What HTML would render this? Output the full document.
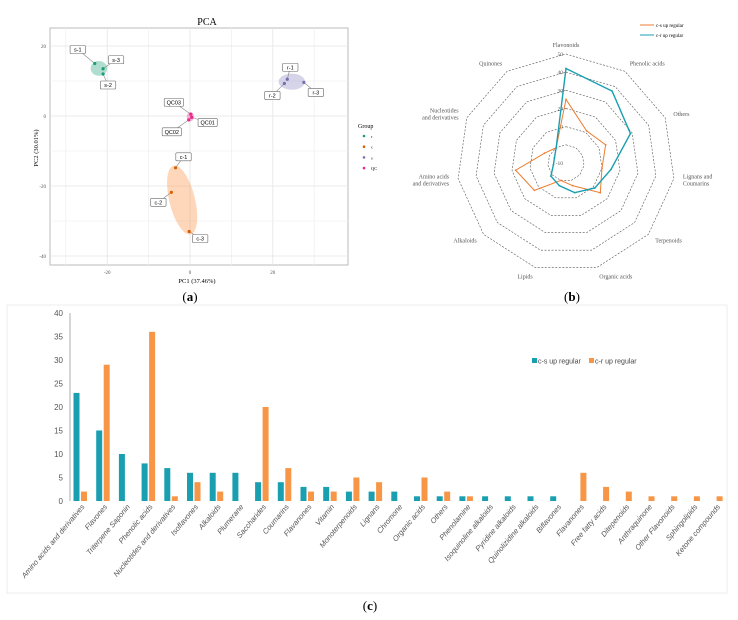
<!DOCTYPE html>
<html><head><meta charset="utf-8"><style>
html,body{margin:0;padding:0;background:#fff;}
svg{display:block;font-family:"Liberation Serif",serif;}
</style></head><body>
<svg id="fig" width="738" height="620" viewBox="0 0 738 620" xmlns="http://www.w3.org/2000/svg">
<g id="pca"></g>
<g id="radar"></g>
<g id="bar"></g>
<text x="190" y="301" font-size="13" text-anchor="middle">(<tspan font-weight="bold">a</tspan>)</text>
<text x="572" y="301" font-size="13" text-anchor="middle">(<tspan font-weight="bold">b</tspan>)</text>
<text x="370" y="610" font-size="13" text-anchor="middle">(<tspan font-weight="bold">c</tspan>)</text>
</svg>
<script>
// ---------- PCA data ----------
const pcaNames = ["s-1","s-3","s-2","r-1","r-2","r-3","QC03","QC01","QC02","c-1","c-2","c-3"];
const pcaGroups = ["s","s","s","r","r","r","QC","QC","QC","c","c","c"];
const pcaPC1 = [-23,-21,-21,23.5,22.8,27.5,0.2,0.4,-0.3,-3.5,-4.5,-0.2];
const pcaPC2 = [15,13.5,12,10.5,9.3,9.6,0.5,-0.4,-1.1,-14.8,-21.8,-33];
const pcaXTicks = [-20,0,20];
const pcaYTicks = [20,0,-20,-40];
const legendGroups = ["r","c","s","QC"];
// ---------- Radar data ----------
const radarAxes = ["Flavonoids","Phenolic acids","Others","Lignans and|Coumarins","Terpenoids","Organic acids","Lipids","Alkaloids","Amino acids|and derivatives","Nucleotides|and derivatives","Quinones"];
const radarCS = [25,11,14,10,15,3,0,13,18,3,0];
const radarCR = [42,37,29,15,11,7,3,1,-3,-3,0];
const radarRings = [0,10,20,30,40,50];
const radarRingLabels = ["-10","10","20","30","40","50"];
// ---------- Bar data ----------
const barCats = ["Amino acids and derivatives","Flavones","Triterpene Saponin","Phenolic acids","Nucleotides and derivatives","Isoflavones","Alkaloids","Plumerane","Saccharides","Coumarins","Flavanones","Vitamin","Monoterpenoids","Lignans","Chromone","Organic acids","Others","Phenolamine","Isoquinoline alkaloids","Pyridine alkaloids","Quinolizidine alkaloids","Biflavones","Flavanones","Free fatty acids","Ditepenoids","Anthraquinone","Other Flavonoids","Sphingolipids","Ketone compounds"];
const barCS = [23,15,10,8,7,6,6,6,4,4,3,3,2,2,2,1,1,1,1,1,1,1,0,0,0,0,0,0,0];
const barCR = [2,29,0,36,1,4,2,0,20,7,2,2,5,4,0,5,2,1,0,0,0,0,6,3,2,1,1,1,1];
const barTicks = [0,5,10,15,20,25,30,35,40];

const NS="http://www.w3.org/2000/svg";
function mk(parent,tag,attrs,text){const e=document.createElementNS(NS,tag);for(const k in attrs)e.setAttribute(k,attrs[k]);if(text!==undefined)e.textContent=text;parent.appendChild(e);return e;}

// ===== PCA =====
(function(){
const g=document.getElementById('pca');
const px=v=>190+v*4.14, py=v=>116-v*3.5;
const ptColor={s:"#1b9e77",r:"#7570b3",c:"#d95f02",QC:"#e7298a"};
let t=mk(g,'text',{x:207,y:25,'font-size':10,'text-anchor':'middle'},"PCA");

let frame=mk(g,'rect',{x:50,y:28,width:298,height:237,fill:'#fff',stroke:'#bbb','stroke-width':1});

for(let v=-30;v<=30;v+=10){const l=mk(g,'line',{x1:px(v),x2:px(v),y1:28,y2:265,stroke:v%20===0?'#e4e4e4':'#f0f0f0','stroke-width':0.8});}
for(let v=-40;v<=20;v+=10){const l=mk(g,'line',{x1:50,x2:348,y1:py(v),y2:py(v),stroke:v%20===0?'#e4e4e4':'#f0f0f0','stroke-width':0.8});}
pcaXTicks.forEach(v=>{const e=mk(g,'text',{x:px(v),y:274,'font-size':5,'text-anchor':'middle',fill:'#555'},v);});
pcaYTicks.forEach(v=>{const e=mk(g,'text',{x:46,y:py(v)+2,'font-size':5,'text-anchor':'end',fill:'#555'},v);});
let xt=mk(g,'text',{x:197,y:283,'font-size':6.5,'text-anchor':'middle'},"PC1 (37.46%)");
let yt=mk(g,'text',{x:38,y:148,'font-size':6.5,'text-anchor':'middle',transform:'rotate(-90 38 148)'},"PC2 (30.01%)");
const ell=[["s",-22,13.6,2.0,2.1,0,"#1b9e77"],["r",24.6,9.8,3.2,2.3,0,"#7570b3"],["QC",0.1,-0.2,0.9,1.3,0,"#e7298a"],["c",-1.9,-24,3.1,10.1,-14,"#fb8c3c"]];
ell.forEach(e=>{const cx=px(e[1]),cy=py(e[2]);const el=mk(g,'ellipse',{cx:cx,cy:cy,rx:e[3]*4.14,ry:e[4]*3.5,fill:e[6],'fill-opacity':e[0]==='r'?0.3:0.35,transform:`rotate(${e[5]} ${cx} ${cy})`});});
const labOff=[[-17,-14],[13,-9],[5,11],[3,-12],[-12,12],[12,10],[-17,-12],[16,5],[-17,12],[8,-11],[-13,10],[11,7]];
pcaNames.forEach((n,i)=>{const x=px(pcaPC1[i]),y=py(pcaPC2[i]);const lx=x+labOff[i][0],ly=y+labOff[i][1];
 const ln=mk(g,'line',{x1:x,y1:y,x2:lx,y2:ly,stroke:'#888','stroke-width':0.6});
 const w=n.length*3.8+4;const r=mk(g,'rect',{x:lx-w/2,y:ly-4,width:w,height:8,fill:'#fff',stroke:'#666','stroke-width':0.6,rx:1});
 const tx=mk(g,'text',{x:lx,y:ly+2,'font-size':5.5,'text-anchor':'middle','font-family':'Liberation Sans, sans-serif'},n);
});
pcaNames.forEach((n,i)=>{const c=mk(g,'circle',{cx:px(pcaPC1[i]),cy:py(pcaPC2[i]),r:1.6,fill:ptColor[pcaGroups[i]]});});
let lg=mk(g,'text',{x:358,y:128,'font-size':6},"Group");
const legColor=["#1b9e77","#d95f02","#7570b3","#e7298a"];
legendGroups.forEach((n,i)=>{const y=136+i*10.7;const c=mk(g,'circle',{cx:364,cy:y,r:1.3,fill:legColor[i]});const tx=mk(g,'text',{x:371,y:y+2,'font-size':4.5},n);});
})();

// ===== Radar =====
(function(){
const g=document.getElementById('radar');
const cx=566,cy=163,R=109,minV=-10,maxV=50,N=radarAxes.length;
const rs=v=>(v-minV)/(maxV-minV)*R;
const ang=i=>(-90+i*360/N)*Math.PI/180;
const pt=(i,v)=>[cx+rs(v)*Math.cos(ang(i)),cy+rs(v)*Math.sin(ang(i))];
radarRings.forEach(v=>{const p=[];for(let i=0;i<N;i++)p.push(pt(i,v).join(','));const e=mk(g,'polygon',{points:p.join(' '),fill:'none',stroke:'#555','stroke-width':0.6,'stroke-dasharray':'2,1.5'});});
const ringVals=[-10,10,20,30,40,50];
radarRingLabels.forEach((l,k)=>{const v=ringVals[k];const y=v===-10?cy:cy-rs(v);const e=mk(g,'text',{x:cx-3,y:y+2,'font-size':5.5,'text-anchor':'end',fill:'#555'},l);});
radarAxes.forEach((a,i)=>{const [x,y]=pt(i,maxV+5);const c=Math.cos(ang(i));const anchor=Math.abs(c)<0.2?'middle':(c>0?'start':'end');const lines=a.split('|');
 const e=mk(g,'text',{x:x,y:y+2-(lines.length-1)*3.5,'font-size':6,'text-anchor':anchor,fill:'#555'});
 lines.forEach((l,j)=>mk(e,'tspan',{x:x,dy:j?7:0},l));});
function series(vals,color,w,name){const p=vals.map((v,i)=>pt(i,v).join(','));const e=mk(g,'polygon',{points:p.join(' '),fill:'none',stroke:color,'stroke-width':w});
 vals.forEach((v,i)=>{const [x,y]=pt(i,v);const c=mk(g,'circle',{cx:x,cy:y,r:0.9,fill:color});});}
series(radarCS,'#ed7d31',1,'radar-series-cs');
series(radarCR,'#1a9fb0',1.4,'radar-series-cr');
[['#ed7d31','c-s up regular',25],['#1a9fb0','c-r up regular',35]].forEach(d=>{const l=mk(g,'line',{x1:640,x2:654,y1:d[2],y2:d[2],stroke:d[0],'stroke-width':1});const t=mk(g,'text',{x:656,y:d[2]+2,'font-size':5},d[1]);});
})();

// ===== Bar =====
(function(){
const g=document.getElementById('bar');
const x0=70,band=22.7,y0=501,ys=188/40;
const y=v=>y0-v*ys;
const fr=mk(g,'rect',{x:7,y:305,width:720,height:288,fill:'none',stroke:'#e8e8e8','stroke-width':0.8});
const ax=mk(g,'line',{x1:x0,x2:x0,y1:y(40),y2:y0,stroke:'#999','stroke-width':0.8});
barTicks.forEach(v=>{const e=mk(g,'text',{x:63,y:y(v)+3,'font-size':8,'text-anchor':'end',fill:'#555','font-family':'Liberation Sans, sans-serif'},v);});
barCats.forEach((c,i)=>{const bx=x0+i*band;
 const a=mk(g,'rect',{x:bx+3.5,y:y(barCS[i]),width:6,height:barCS[i]*ys,fill:'#1a9fb0'});
 const b=mk(g,'rect',{x:bx+11,y:y(barCR[i]),width:6,height:barCR[i]*ys,fill:'#f79646'});
 const lx=bx+15,ly=507;const t=mk(g,'text',{x:lx,y:ly,'font-size':7.5,'text-anchor':'end',fill:'#555','font-family':'Liberation Sans, sans-serif','font-style':'italic',transform:`rotate(-50 ${lx} ${ly})`},c);});
[['#1a9fb0','c-s up regular',532],['#f79646','c-r up regular',589]].forEach(d=>{const r=mk(g,'rect',{x:d[2],y:358,width:5,height:5,fill:d[0]});const t=mk(g,'text',{x:d[2]+6,y:363.5,'font-size':7,fill:'#444','font-family':'Liberation Sans, sans-serif'},d[1]);});
})();
</script>
</body></html>
